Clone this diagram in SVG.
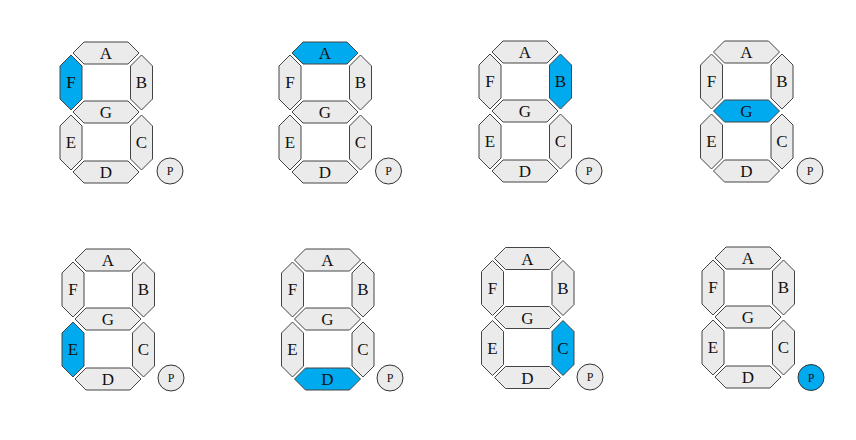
<svg xmlns="http://www.w3.org/2000/svg" xmlns:xlink="http://www.w3.org/1999/xlink" width="856" height="440" viewBox="0 0 856 440">
<style>
.seg{fill:#ebebeb;stroke:#444;stroke-width:1}
.on{fill:#00aaef}
.lbl{font-family:"Liberation Serif","DejaVu Serif",serif;font-size:17px;fill:#111;text-anchor:middle}
.pl{font-family:"Liberation Serif","DejaVu Serif",serif;font-size:12px;fill:#111;text-anchor:middle}
.dp{fill:#ebebeb;stroke:#333;stroke-width:1}
.dp.on{fill:#00aaef}
</style>
<defs>
<polygon id="h" points="0,11 11,0 55,0 66,11 55,22 11,22"/>
<polygon id="v" points="11,0 22,11 22,44 11,55 0,44 0,11"/>
</defs>
<rect width="856" height="440" fill="#fff"/>
<g id="connectors"/>

<g id="digit1" transform="translate(60,42)">
<g id="d1-A"><use xlink:href="#h" class="seg" x="13" y="0"/><text class="lbl" x="46" y="17">A</text></g>
<g id="d1-F"><use xlink:href="#v" class="seg on" x="0" y="13"/><text class="lbl" x="11" y="46">F</text></g>
<g id="d1-B"><use xlink:href="#v" class="seg" x="70.5" y="13"/><text class="lbl" x="81.5" y="46">B</text></g>
<g id="d1-G"><use xlink:href="#h" class="seg" x="13" y="59"/><text class="lbl" x="46" y="76">G</text></g>
<g id="d1-E"><use xlink:href="#v" class="seg" x="0" y="73"/><text class="lbl" x="11" y="106">E</text></g>
<g id="d1-C"><use xlink:href="#v" class="seg" x="70.5" y="73"/><text class="lbl" x="81.5" y="106">C</text></g>
<g id="d1-D"><use xlink:href="#h" class="seg" x="13" y="119"/><text class="lbl" x="46" y="136">D</text></g>
<g id="d1-P"><circle class="dp" cx="110" cy="129" r="13"/><text class="pl" x="110" y="133">P</text></g>
</g>

<g id="digit2" transform="translate(279,42)">
<g id="d2-A"><use xlink:href="#h" class="seg on" x="13" y="0"/><text class="lbl" x="46" y="17">A</text></g>
<g id="d2-F"><use xlink:href="#v" class="seg" x="0" y="13"/><text class="lbl" x="11" y="46">F</text></g>
<g id="d2-B"><use xlink:href="#v" class="seg" x="70.5" y="13"/><text class="lbl" x="81.5" y="46">B</text></g>
<g id="d2-G"><use xlink:href="#h" class="seg" x="13" y="59"/><text class="lbl" x="46" y="76">G</text></g>
<g id="d2-E"><use xlink:href="#v" class="seg" x="0" y="73"/><text class="lbl" x="11" y="106">E</text></g>
<g id="d2-C"><use xlink:href="#v" class="seg" x="70.5" y="73"/><text class="lbl" x="81.5" y="106">C</text></g>
<g id="d2-D"><use xlink:href="#h" class="seg" x="13" y="119"/><text class="lbl" x="46" y="136">D</text></g>
<g id="d2-P"><circle class="dp" cx="109.5" cy="129" r="13"/><text class="pl" x="109.5" y="133">P</text></g>
</g>

<g id="digit3" transform="translate(479,41)">
<g id="d3-A"><use xlink:href="#h" class="seg" x="13" y="0"/><text class="lbl" x="46" y="17">A</text></g>
<g id="d3-F"><use xlink:href="#v" class="seg" x="0" y="13"/><text class="lbl" x="11" y="46">F</text></g>
<g id="d3-B"><use xlink:href="#v" class="seg on" x="70.5" y="13"/><text class="lbl" x="81.5" y="46">B</text></g>
<g id="d3-G"><use xlink:href="#h" class="seg" x="13" y="59"/><text class="lbl" x="46" y="76">G</text></g>
<g id="d3-E"><use xlink:href="#v" class="seg" x="0" y="73"/><text class="lbl" x="11" y="106">E</text></g>
<g id="d3-C"><use xlink:href="#v" class="seg" x="70.5" y="73"/><text class="lbl" x="81.5" y="106">C</text></g>
<g id="d3-D"><use xlink:href="#h" class="seg" x="13" y="119"/><text class="lbl" x="46" y="136">D</text></g>
<g id="d3-P"><circle class="dp" cx="110" cy="130" r="13"/><text class="pl" x="110" y="134">P</text></g>
</g>

<g id="digit4" transform="translate(700.5,41)">
<g id="d4-A"><use xlink:href="#h" class="seg" x="13" y="0"/><text class="lbl" x="46" y="17">A</text></g>
<g id="d4-F"><use xlink:href="#v" class="seg" x="0" y="13"/><text class="lbl" x="11" y="46">F</text></g>
<g id="d4-B"><use xlink:href="#v" class="seg" x="70.5" y="13"/><text class="lbl" x="81.5" y="46">B</text></g>
<g id="d4-G"><use xlink:href="#h" class="seg on" x="13" y="59"/><text class="lbl" x="46" y="76">G</text></g>
<g id="d4-E"><use xlink:href="#v" class="seg" x="0" y="73"/><text class="lbl" x="11" y="106">E</text></g>
<g id="d4-C"><use xlink:href="#v" class="seg" x="70.5" y="73"/><text class="lbl" x="81.5" y="106">C</text></g>
<g id="d4-D"><use xlink:href="#h" class="seg" x="13" y="119"/><text class="lbl" x="46" y="136">D</text></g>
<g id="d4-P"><circle class="dp" cx="109.5" cy="130" r="13"/><text class="pl" x="109.5" y="134">P</text></g>
</g>

<g id="digit5" transform="translate(62,249)">
<g id="d5-A"><use xlink:href="#h" class="seg" x="13" y="0"/><text class="lbl" x="46" y="17">A</text></g>
<g id="d5-F"><use xlink:href="#v" class="seg" x="0" y="13"/><text class="lbl" x="11" y="46">F</text></g>
<g id="d5-B"><use xlink:href="#v" class="seg" x="70.5" y="13"/><text class="lbl" x="81.5" y="46">B</text></g>
<g id="d5-G"><use xlink:href="#h" class="seg" x="13" y="59"/><text class="lbl" x="46" y="76">G</text></g>
<g id="d5-E"><use xlink:href="#v" class="seg on" x="0" y="73"/><text class="lbl" x="11" y="106">E</text></g>
<g id="d5-C"><use xlink:href="#v" class="seg" x="70.5" y="73"/><text class="lbl" x="81.5" y="106">C</text></g>
<g id="d5-D"><use xlink:href="#h" class="seg" x="13" y="119"/><text class="lbl" x="46" y="136">D</text></g>
<g id="d5-P"><circle class="dp" cx="109" cy="129" r="13"/><text class="pl" x="109" y="133">P</text></g>
</g>

<g id="digit6" transform="translate(281.5,249)">
<g id="d6-A"><use xlink:href="#h" class="seg" x="13" y="0"/><text class="lbl" x="46" y="17">A</text></g>
<g id="d6-F"><use xlink:href="#v" class="seg" x="0" y="13"/><text class="lbl" x="11" y="46">F</text></g>
<g id="d6-B"><use xlink:href="#v" class="seg" x="70.5" y="13"/><text class="lbl" x="81.5" y="46">B</text></g>
<g id="d6-G"><use xlink:href="#h" class="seg" x="13" y="59"/><text class="lbl" x="46" y="76">G</text></g>
<g id="d6-E"><use xlink:href="#v" class="seg" x="0" y="73"/><text class="lbl" x="11" y="106">E</text></g>
<g id="d6-C"><use xlink:href="#v" class="seg" x="70.5" y="73"/><text class="lbl" x="81.5" y="106">C</text></g>
<g id="d6-D"><use xlink:href="#h" class="seg on" x="13" y="119"/><text class="lbl" x="46" y="136">D</text></g>
<g id="d6-P"><circle class="dp" cx="108.5" cy="129" r="13"/><text class="pl" x="108.5" y="133">P</text></g>
</g>

<g id="digit7" transform="translate(481.5,247.5)">
<g id="d7-A"><use xlink:href="#h" class="seg" x="13" y="0"/><text class="lbl" x="46" y="17">A</text></g>
<g id="d7-F"><use xlink:href="#v" class="seg" x="0" y="13"/><text class="lbl" x="11" y="46">F</text></g>
<g id="d7-B"><use xlink:href="#v" class="seg" x="70.5" y="13"/><text class="lbl" x="81.5" y="46">B</text></g>
<g id="d7-G"><use xlink:href="#h" class="seg" x="13" y="59"/><text class="lbl" x="46" y="76">G</text></g>
<g id="d7-E"><use xlink:href="#v" class="seg" x="0" y="73"/><text class="lbl" x="11" y="106">E</text></g>
<g id="d7-C"><use xlink:href="#v" class="seg on" x="70.5" y="73"/><text class="lbl" x="81.5" y="106">C</text></g>
<g id="d7-D"><use xlink:href="#h" class="seg" x="13" y="119"/><text class="lbl" x="46" y="136">D</text></g>
<g id="d7-P"><circle class="dp" cx="108.5" cy="129.5" r="13"/><text class="pl" x="108.5" y="133.5">P</text></g>
</g>

<g id="digit8" transform="translate(702,247)">
<g id="d8-A"><use xlink:href="#h" class="seg" x="13" y="0"/><text class="lbl" x="46" y="17">A</text></g>
<g id="d8-F"><use xlink:href="#v" class="seg" x="0" y="13"/><text class="lbl" x="11" y="46">F</text></g>
<g id="d8-B"><use xlink:href="#v" class="seg" x="70.5" y="13"/><text class="lbl" x="81.5" y="46">B</text></g>
<g id="d8-G"><use xlink:href="#h" class="seg" x="13" y="59"/><text class="lbl" x="46" y="76">G</text></g>
<g id="d8-E"><use xlink:href="#v" class="seg" x="0" y="73"/><text class="lbl" x="11" y="106">E</text></g>
<g id="d8-C"><use xlink:href="#v" class="seg" x="70.5" y="73"/><text class="lbl" x="81.5" y="106">C</text></g>
<g id="d8-D"><use xlink:href="#h" class="seg" x="13" y="119"/><text class="lbl" x="46" y="136">D</text></g>
<g id="d8-P"><circle class="dp on" cx="109" cy="130.5" r="13"/><text class="pl" x="109" y="134.5">P</text></g>
</g>
</svg>
